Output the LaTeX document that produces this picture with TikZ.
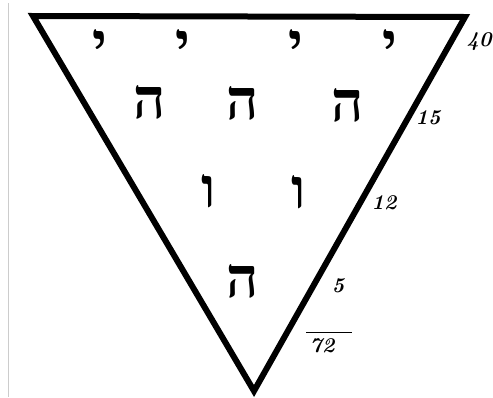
\documentclass[tikz,border=0pt]{standalone}
\usepackage{fontspec}
\newfontfamily\hebfont[Script=Hebrew]{Liberation Serif}
\TeXXeTstate=1
\begin{document}
\begin{tikzpicture}[x=1pt,y=-1pt,
  heb/.style={font=\hebfont\bfseries\fontsize{56}{56}\selectfont,inner sep=0pt,anchor=base},
  num/.style={font=\itshape\fontsize{21}{21}\selectfont,inner sep=0pt}]
\useasboundingbox (0,0) rectangle (493,397);
\draw[black!20,line width=0.8pt] (8,3) -- (8,397);
\coordinate (tl) at (33,16);
\coordinate (tr) at (465,17);
\coordinate (bt) at (254,391);
\draw[line width=6pt,line join=miter] (tl) -- (tr) -- (bt) -- cycle;
% yods
\node[heb] (y1) at (100,62) {\beginR י\endR};
\node[heb] (y2) at (183,62) {\beginR י\endR};
\node[heb] (y3) at (296,62) {\beginR י\endR};
\node[heb] (y4) at (390,62) {\beginR י\endR};
% he row
\node[heb] (h1) at (150,118) {\beginR ה\endR};
\node[heb] (h2) at (243,119) {\beginR ה\endR};
\node[heb] (h3) at (348,121) {\beginR ה\endR};
% vav row
\node[heb] (v1) at (209,207) {\beginR ו\endR};
\node[heb] (v2) at (299,208) {\beginR ו\endR};
% bottom he
\node[heb] (h4) at (243,297) {\beginR ה\endR};
% numbers
\node[num] (n40) at (479,42) {\textbf{40}};
\node[num] (n15) at (428,118) {\textbf{15}};
\node[num] (n12) at (384,203) {\textbf{12}};
\node[num] (n5) at (338,286) {\textbf{5}};
\node[num] (n72) at (322,346) {\textbf{72}};
\draw[line width=1pt] (306,332) -- (352,332);
\end{tikzpicture}
\end{document}
